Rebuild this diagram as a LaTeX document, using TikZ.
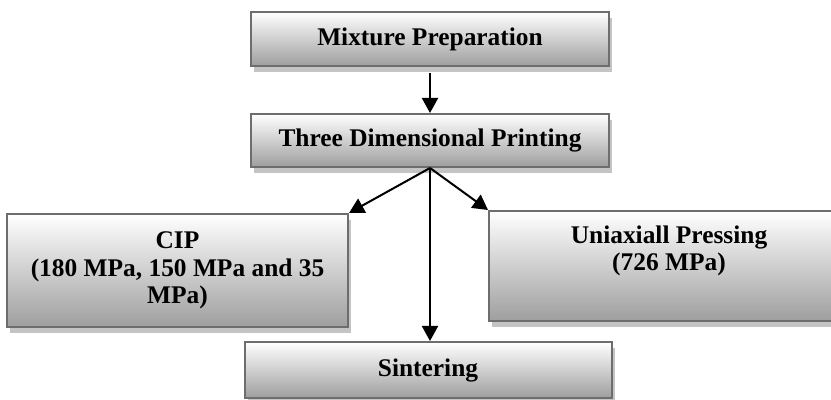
\documentclass[tikz,border=0pt]{standalone}
\usepackage{fontspec}
\setmainfont{Liberation Serif}
\usetikzlibrary{arrows.meta,positioning,shadows}

\definecolor{boxline}{HTML}{6D6D6D}
\definecolor{boxshade}{HTML}{C4C4C4}

\begin{document}
\begin{tikzpicture}[
    x=0.5pt, y=-0.5pt,
    font=\fontsize{12.7pt}{13.8pt}\selectfont\bfseries,
    stage/.style={
        rectangle,
        draw=boxline,
        line width=1pt,
        top color=white,
        bottom color=black!38,
        align=center,
        inner sep=0pt,
        drop shadow={shadow xshift=1.5pt, shadow yshift=-3pt,
                     fill=boxshade, opacity=1}
    },
    arrow/.style={-{Triangle[length=7.5pt,width=8pt]}, line width=1pt}
]

\useasboundingbox (0,0) rectangle (831,400);

% =========================================================
% ETAPAS PRINCIPALES
% =========================================================

\node[stage, minimum width=179pt, minimum height=27pt] (mixture)
at (430,39) {Mixture Preparation};

\node[stage, minimum width=179pt, minimum height=26.5pt,
      below=23pt of mixture] (printing)
{Three Dimensional Printing};

% =========================================================
% COMPACTACION Y SINTERIZADO
% =========================================================

\node[stage, minimum width=170.5pt, minimum height=56.5pt] (cip)
at (177.5,270.5)
{CIP\\(180 MPa, 150 MPa and 35\\MPa)};

\node[stage, minimum width=180pt, minimum height=55pt] (uniaxial)
at (669,266)
{Uniaxiall Pressing\\(726 MPa)\\\strut};

\node[stage, minimum width=183.5pt, minimum height=28pt] (sintering)
at (428,370)
{Sintering};

% =========================================================
% FLECHAS
% =========================================================

\draw[arrow] (mixture.south) ++(0,6) -- (printing.north);

\draw[arrow] (printing.south) -- (cip.north east);
\draw[arrow] (printing.south) -- (printing.south |- sintering.north);
\draw[arrow] (printing.south) -- (uniaxial.north west);

\end{tikzpicture}
\end{document}
